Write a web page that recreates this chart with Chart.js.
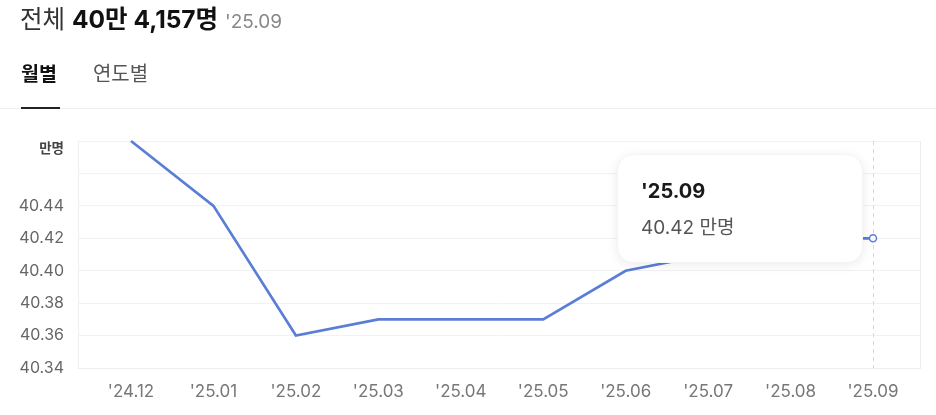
<!DOCTYPE html>
<html><head><meta charset="utf-8">
<script src="https://cdn.jsdelivr.net/npm/chart.js@4/dist/chart.umd.min.js"></script>
<style>
html,body{margin:0;padding:0;background:#fff;width:936px;height:415px;overflow:hidden;font-family:Inter,"Noto Sans CJK KR",sans-serif;}
#wrap{position:absolute;left:0;top:0;width:936px;height:415px;}
#hdr{position:absolute;left:20px;top:4px;font-size:24.5px;color:#333;white-space:nowrap;line-height:30px;z-index:2}
#hdr b{color:#111;font-weight:700}
#hdr .d{color:#888;font-size:19px}
#tabs{position:absolute;left:21px;top:61px;font-size:19.5px;line-height:26px;white-space:nowrap;z-index:2}
#tabs .on{font-weight:700;color:#111;}
#tabs .off{color:#555;margin-left:36px;font-size:20px}
#uline{position:absolute;left:21px;top:107px;width:39px;height:2px;background:#222;z-index:3}
#sep{position:absolute;left:0;top:108px;width:936px;height:1px;background:#eee;z-index:2}
#tip{position:absolute;width:246px;height:109px;background:#fff;border-radius:16px;box-shadow:0 2px 12px rgba(0,0,0,0.08);border:1px solid #f4f4f4;box-sizing:border-box;z-index:4}
#tip .t{position:absolute;left:23px;top:24px;font-size:20px;font-weight:700;color:#1a1a1a;line-height:24px}
#tip .v{position:absolute;left:23px;top:61px;font-size:19px;color:#555;line-height:24px}
</style></head>
<body>
<div id="hdr">전체 <b>40만 4,157명</b> <span class="d">'25.09</span></div>
<div id="tabs"><span class="on">월별</span><span class="off">연도별</span></div>
<div id="uline"></div><div id="sep"></div>
<div id="wrap"><canvas id="c" width="936" height="415"></canvas></div>
<div id="tip"><div class="t"></div><div class="v"></div></div>
<script>
const labels = ["'24.12","'25.01","'25.02","'25.03","'25.04","'25.05","'25.06","'25.07","'25.08","'25.09"];
const values = [40.48, 40.44, 40.36, 40.37, 40.37, 40.37, 40.40, 40.41, 40.42, 40.42];
const yMin = 40.34, yMax = 40.48, yStep = 0.02;
const unitLabel = '만명';
const lineColor = '#5a7dd6';
const last = values.length - 1;

const isTop = ctx => !!(ctx && ctx.tick && Math.abs(ctx.tick.value - yMax) < 1e-6);

const extras = {
  id: 'extras',
  beforeDatasetsDraw(chart) {
    const {ctx, chartArea: a} = chart;
    const p = chart.getDatasetMeta(0).data[last];
    ctx.save();
    ctx.strokeStyle = '#eeeeee'; ctx.lineWidth = 1;
    ctx.beginPath(); ctx.moveTo(a.right + 0.5, a.top); ctx.lineTo(a.right + 0.5, a.bottom); ctx.stroke();
    ctx.strokeStyle = '#d8d8d8'; ctx.setLineDash([4, 4]);
    ctx.beginPath(); ctx.moveTo(Math.round(p.x) + 0.5, a.top); ctx.lineTo(Math.round(p.x) + 0.5, a.bottom); ctx.stroke();
    ctx.restore();
  },
  afterDraw(chart) {
    const p = chart.getDatasetMeta(0).data[last];
    const tip = document.getElementById('tip');
    tip.style.left = (p.x - 10 - 246) + 'px';
    tip.style.top = (p.y - 84) + 'px';
    tip.querySelector('.t').textContent = labels[last];
    tip.querySelector('.v').textContent = values[last].toFixed(2) + ' ' + unitLabel;
  }
};

new Chart(document.getElementById('c'), {
  type: 'line',
  data: {
    datasets: [{
      data: values.map((v, i) => ({x: i, y: v})),
      borderColor: lineColor,
      borderWidth: 2.7,
      tension: 0,
      clip: false,
      pointRadius: values.map((v, i) => i === last ? 3.5 : 0),
      pointBackgroundColor: '#fff',
      pointBorderColor: lineColor,
      pointBorderWidth: 1.5
    }]
  },
  options: {
    responsive: false,
    animation: false,
    events: [],
    layout: {padding: {left: 0, right: 16, top: 141, bottom: 0}},
    plugins: {legend: {display: false}, tooltip: {enabled: false}},
    scales: {
      x: {
        type: 'linear',
        min: -0.643, max: 9.57,
        afterBuildTicks: s => { s.ticks = labels.map((l, i) => ({value: i})); },
        afterFit: s => { s.height = 47; },
        grid: {display: false, drawTicks: false},
        border: {display: true, color: '#eeeeee'},
        ticks: {
          padding: 14, maxRotation: 0, autoSkip: false,
          color: '#777', font: {family: 'Inter, "Noto Sans CJK KR", sans-serif', size: 17},
          callback: v => labels[v]
        }
      },
      y: {
        min: yMin, max: yMax,
        afterBuildTicks: s => {
          const t = [];
          for (let v = yMin; v <= yMax + 1e-9; v += yStep) t.push({value: Math.round(v * 100) / 100});
          s.ticks = t;
        },
        afterFit: s => { s.width = 78; },
        grid: {color: '#f2f2f2', drawTicks: false},
        border: {display: true, color: '#eeeeee'},
        ticks: {
          padding: 14, autoSkip: false,
          color: ctx => (isTop(ctx) ? '#444' : '#666'),
          font: ctx => (isTop(ctx)
            ? {family: '"Noto Sans CJK KR", sans-serif', size: 13.5, weight: 'bold', lineHeight: 1.0}
            : {family: 'Inter, "Noto Sans CJK KR", sans-serif', size: 16}),
          callback: v => {
            if (Math.abs(v - yMax) < 1e-6) return ['', unitLabel];
            if (Math.abs(v - (yMax - yStep)) < 1e-6) return '';
            return v.toFixed(2);
          }
        }
      }
    }
  },
  plugins: [extras]
});
</script>
</body></html>
